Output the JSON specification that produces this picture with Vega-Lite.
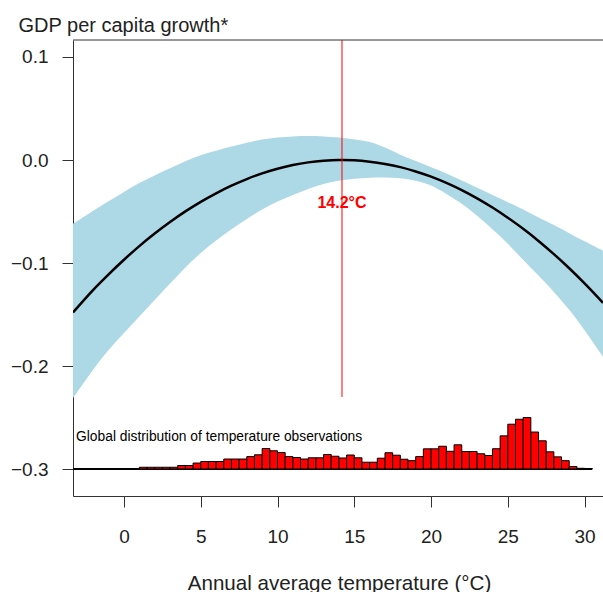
{
  "$schema": "https://vega.github.io/schema/vega-lite/v6.json",
  "autosize": {"type": "none"},
  "padding": {"left": 73, "top": 40, "right": 0, "bottom": 96},
  "width": 530,
  "height": 456,
  "background": "white",
  "config": {
    "view": {"stroke": null},
    "font": "Liberation Sans",
    "axis": {
      "grid": false,
      "domainColor": "#333333",
      "tickColor": "#333333",
      "tickSize": 11,
      "labelFont": "Liberation Sans",
      "labelFontSize": 19,
      "labelColor": "#222222",
      "titleFont": "Liberation Sans",
      "titleFontSize": 20,
      "titleFontWeight": "normal",
      "titleColor": "#222222"
    }
  },
  "datasets": {
    "curve": [
      {"t": -3.32, "fit": -0.148, "lo": -0.231, "hi": -0.062},
      {"t": -2, "fit": -0.126, "lo": -0.203, "hi": -0.049},
      {"t": -1, "fit": -0.111, "lo": -0.184, "hi": -0.040},
      {"t": 0, "fit": -0.0968, "lo": -0.168, "hi": -0.031},
      {"t": 1, "fit": -0.0836, "lo": -0.152, "hi": -0.022},
      {"t": 2, "fit": -0.0714, "lo": -0.136, "hi": -0.015},
      {"t": 3, "fit": -0.0602, "lo": -0.120, "hi": -0.008},
      {"t": 4, "fit": -0.0499, "lo": -0.104, "hi": -0.001},
      {"t": 5, "fit": -0.0406, "lo": -0.090, "hi": 0.005},
      {"t": 6, "fit": -0.0323, "lo": -0.078, "hi": 0.009},
      {"t": 7, "fit": -0.0249, "lo": -0.067, "hi": 0.013},
      {"t": 8, "fit": -0.0185, "lo": -0.057, "hi": 0.017},
      {"t": 9, "fit": -0.0130, "lo": -0.048, "hi": 0.020},
      {"t": 10, "fit": -0.0085, "lo": -0.040, "hi": 0.022},
      {"t": 11, "fit": -0.0049, "lo": -0.034, "hi": 0.023},
      {"t": 12, "fit": -0.0023, "lo": -0.028, "hi": 0.0235},
      {"t": 13, "fit": -0.0007, "lo": -0.023, "hi": 0.023},
      {"t": 14, "fit": 0.0, "lo": -0.020, "hi": 0.022},
      {"t": 14.2, "fit": 0.0, "lo": -0.0197, "hi": 0.0217},
      {"t": 15, "fit": -0.0003, "lo": -0.018, "hi": 0.020},
      {"t": 16, "fit": -0.0016, "lo": -0.017, "hi": 0.018},
      {"t": 17, "fit": -0.0038, "lo": -0.017, "hi": 0.0123},
      {"t": 18, "fit": -0.0069, "lo": -0.0175, "hi": 0.005},
      {"t": 19, "fit": -0.0111, "lo": -0.020, "hi": -0.001},
      {"t": 20, "fit": -0.0161, "lo": -0.024, "hi": -0.007},
      {"t": 21, "fit": -0.0222, "lo": -0.033, "hi": -0.013},
      {"t": 22, "fit": -0.0292, "lo": -0.042, "hi": -0.020},
      {"t": 23, "fit": -0.0372, "lo": -0.054, "hi": -0.027},
      {"t": 24, "fit": -0.0461, "lo": -0.067, "hi": -0.034},
      {"t": 25, "fit": -0.0560, "lo": -0.081, "hi": -0.041},
      {"t": 26, "fit": -0.0668, "lo": -0.097, "hi": -0.048},
      {"t": 27, "fit": -0.0786, "lo": -0.112, "hi": -0.056},
      {"t": 28, "fit": -0.0914, "lo": -0.128, "hi": -0.063},
      {"t": 29, "fit": -0.1051, "lo": -0.145, "hi": -0.071},
      {"t": 30, "fit": -0.1198, "lo": -0.165, "hi": -0.079},
      {"t": 31.2, "fit": -0.1387, "lo": -0.191, "hi": -0.088}
    ],
    "hist": [
      {"lo": 1.0, "hi": 1.5, "top": -0.2983},
      {"lo": 1.5, "hi": 2.0, "top": -0.2983},
      {"lo": 2.0, "hi": 2.5, "top": -0.2983},
      {"lo": 2.5, "hi": 3.0, "top": -0.2983},
      {"lo": 3.0, "hi": 3.5, "top": -0.2983},
      {"lo": 3.5, "hi": 4.0, "top": -0.2966},
      {"lo": 4.0, "hi": 4.5, "top": -0.2966},
      {"lo": 4.5, "hi": 5.0, "top": -0.2942},
      {"lo": 5.0, "hi": 5.5, "top": -0.2927},
      {"lo": 5.5, "hi": 6.0, "top": -0.2927},
      {"lo": 6.0, "hi": 6.5, "top": -0.2927},
      {"lo": 6.5, "hi": 7.0, "top": -0.2903},
      {"lo": 7.0, "hi": 7.5, "top": -0.2903},
      {"lo": 7.5, "hi": 8.0, "top": -0.2903},
      {"lo": 8.0, "hi": 8.5, "top": -0.2879},
      {"lo": 8.5, "hi": 9.0, "top": -0.2862},
      {"lo": 9.0, "hi": 9.5, "top": -0.2801},
      {"lo": 9.5, "hi": 10.0, "top": -0.2823},
      {"lo": 10.0, "hi": 10.5, "top": -0.2840},
      {"lo": 10.5, "hi": 11.0, "top": -0.2879},
      {"lo": 11.0, "hi": 11.5, "top": -0.2888},
      {"lo": 11.5, "hi": 12.0, "top": -0.2903},
      {"lo": 12.0, "hi": 12.5, "top": -0.2891},
      {"lo": 12.5, "hi": 13.0, "top": -0.2891},
      {"lo": 13.0, "hi": 13.5, "top": -0.2859},
      {"lo": 13.5, "hi": 14.0, "top": -0.2876},
      {"lo": 14.0, "hi": 14.5, "top": -0.2893},
      {"lo": 14.5, "hi": 15.0, "top": -0.2864},
      {"lo": 15.0, "hi": 15.5, "top": -0.2891},
      {"lo": 15.5, "hi": 16.0, "top": -0.2934},
      {"lo": 16.0, "hi": 16.5, "top": -0.2934},
      {"lo": 16.5, "hi": 17.0, "top": -0.2895},
      {"lo": 17.0, "hi": 17.5, "top": -0.2842},
      {"lo": 17.5, "hi": 18.0, "top": -0.2866},
      {"lo": 18.0, "hi": 18.5, "top": -0.2905},
      {"lo": 18.5, "hi": 19.0, "top": -0.2919},
      {"lo": 19.0, "hi": 19.5, "top": -0.2879},
      {"lo": 19.5, "hi": 20.0, "top": -0.2804},
      {"lo": 20.0, "hi": 20.5, "top": -0.2804},
      {"lo": 20.5, "hi": 21.0, "top": -0.2779},
      {"lo": 21.0, "hi": 21.5, "top": -0.2828},
      {"lo": 21.5, "hi": 22.0, "top": -0.2765},
      {"lo": 22.0, "hi": 22.5, "top": -0.2830},
      {"lo": 22.5, "hi": 23.0, "top": -0.2830},
      {"lo": 23.0, "hi": 23.5, "top": -0.2852},
      {"lo": 23.5, "hi": 24.0, "top": -0.2869},
      {"lo": 24.0, "hi": 24.5, "top": -0.2803},
      {"lo": 24.5, "hi": 25.0, "top": -0.2678},
      {"lo": 25.0, "hi": 25.5, "top": -0.2565},
      {"lo": 25.5, "hi": 26.0, "top": -0.2517},
      {"lo": 26.0, "hi": 26.5, "top": -0.2500},
      {"lo": 26.5, "hi": 27.0, "top": -0.2641},
      {"lo": 27.0, "hi": 27.5, "top": -0.2726},
      {"lo": 27.5, "hi": 28.0, "top": -0.2833},
      {"lo": 28.0, "hi": 28.5, "top": -0.2882},
      {"lo": 28.5, "hi": 29.0, "top": -0.2919},
      {"lo": 29.0, "hi": 29.5, "top": -0.2976},
      {"lo": 29.5, "hi": 30.0, "top": -0.2993},
      {"lo": 30.0, "hi": 30.5, "top": -0.2995}
    ]
  },
  "layer": [
    {
      "data": {"name": "curve"},
      "mark": {"type": "area", "color": "#ADD8E6", "opacity": 1, "interpolate": "basis", "clip": true},
      "encoding": {
        "x": {
          "field": "t", "type": "quantitative",
          "scale": {"domain": [-3.32, 31.2], "nice": false, "zero": false},
          "axis": {
            "values": [0, 5, 10, 15, 20, 25, 30], "format": "d",
            "labelPadding": 20,
            "title": "Annual average temperature (°C)",
            "titleFontSize": 20.6,
            "titleX": 266, "titleY": 93, "titleBaseline": "alphabetic", "titleAlign": "center"
          }
        },
        "y": {
          "field": "lo", "type": "quantitative",
          "scale": {"domain": [-0.3262, 0.1165], "nice": false, "zero": false},
          "axis": {
            "values": [-0.3, -0.2, -0.1, 0, 0.1], "format": ".1f",
            "labelPadding": 14,
            "title": "GDP per capita growth*",
            "titleAngle": 0, "titleAlign": "left", "titleBaseline": "alphabetic",
            "titleX": -55, "titleY": -9
          }
        },
        "y2": {"field": "hi"}
      }
    },
    {
      "data": {"name": "curve"},
      "mark": {"type": "line", "color": "black", "strokeWidth": 2.5, "interpolate": "monotone", "clip": true},
      "encoding": {
        "x": {"field": "t", "type": "quantitative"},
        "y": {"field": "fit", "type": "quantitative"}
      }
    },
    {
      "data": {"values": [{}]},
      "mark": {"type": "rule", "color": "#FF0000", "strokeWidth": 1},
      "encoding": {
        "x": {"datum": 14.2, "type": "quantitative"},
        "y": {"datum": 0.1165, "type": "quantitative"},
        "y2": {"datum": -0.23}
      }
    },
    {
      "data": {"values": [{}]},
      "mark": {"type": "text", "color": "#FF0000", "fontSize": 16, "fontWeight": "bold", "font": "Liberation Sans", "align": "center", "baseline": "middle"},
      "encoding": {
        "x": {"datum": 14.2, "type": "quantitative"},
        "y": {"datum": -0.042, "type": "quantitative"},
        "text": {"value": "14.2°C"}
      }
    },
    {
      "data": {"values": [{}]},
      "mark": {"type": "rule", "color": "black", "strokeWidth": 2, "clip": true},
      "encoding": {
        "x": {"datum": -3.32, "type": "quantitative"},
        "x2": {"datum": 30.5},
        "y": {"datum": -0.3, "type": "quantitative"}
      }
    },
    {
      "data": {"name": "hist"},
      "mark": {"type": "bar", "color": "#FF0000", "stroke": "black", "strokeWidth": 1},
      "encoding": {
        "x": {"field": "lo", "type": "quantitative"},
        "x2": {"field": "hi"},
        "y": {"field": "top", "type": "quantitative"},
        "y2": {"datum": -0.3}
      }
    },
    {
      "data": {"values": [{}]},
      "mark": {"type": "text", "color": "black", "fontSize": 13.8, "font": "Liberation Sans", "align": "left", "baseline": "middle"},
      "encoding": {
        "x": {"datum": -3.12, "type": "quantitative"},
        "y": {"datum": -0.2689, "type": "quantitative"},
        "text": {"value": "Global distribution of temperature observations"}
      }
    },
    {
      "data": {"values": [{}]},
      "mark": {"type": "rule", "color": "#333333", "strokeWidth": 1},
      "encoding": {
        "y": {"datum": 0.1165, "type": "quantitative"}
      }
    }
  ]
}
